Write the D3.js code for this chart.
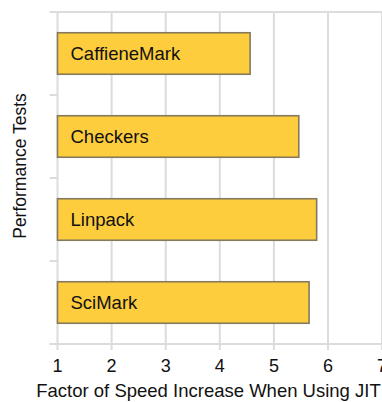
<!DOCTYPE html>
<html>
<head>
<meta charset="utf-8">
<script src="https://cdn.jsdelivr.net/npm/d3@7"></script>
<style>
  html, body { margin: 0; padding: 0; background: #fff; overflow: hidden; }
  text { font-family: "Liberation Sans", Arial, sans-serif; fill: #111; }
</style>
</head>
<body>
<svg id="chart" width="382" height="402"></svg>
<script>
// Benchmark speed-up factors with JIT compilation
const tests = ["CaffieneMark", "Checkers", "Linpack", "SciMark"];
const speedup = [4.56, 5.46, 5.79, 5.65];
const xTicks = [1, 2, 3, 4, 5, 6, 7];

const svg = d3.select("#chart");
const margin = { left: 57.5, top: 12, bottom: 344 };

const x = d3.scaleLinear().domain([1, 7]).range([margin.left, margin.left + 6 * 54.1]);
const y = d3.scaleBand().domain(tests).range([margin.top, margin.bottom])
  .paddingInner(0.5).paddingOuter(0.25);

const grid = svg.append("g");
// vertical gridlines (extend slightly below the axis as ticks)
grid.selectAll("line.v").data(xTicks).join("line")
  .attr("x1", d => x(d)).attr("x2", d => x(d))
  .attr("y1", margin.top).attr("y2", margin.bottom + 6)
  .attr("stroke", "#dcdcdc").attr("stroke-width", 2);
// horizontal frame lines at top and bottom
grid.selectAll("line.h").data([margin.top, margin.bottom]).join("line")
  .attr("x1", margin.left - 8).attr("x2", 382)
  .attr("y1", d => d).attr("y2", d => d)
  .attr("stroke", "#dcdcdc").attr("stroke-width", 2);
// category boundary ticks on the left
const step = y.step();
const bounds = d3.range(1, tests.length).map(i => margin.top + i * step);
grid.selectAll("line.t").data(bounds).join("line")
  .attr("x1", margin.left - 8).attr("x2", margin.left)
  .attr("y1", d => d).attr("y2", d => d)
  .attr("stroke", "#dcdcdc").attr("stroke-width", 2);

// bars
svg.append("g").selectAll("rect").data(tests).join("rect")
  .attr("x", x(1))
  .attr("y", d => y(d))
  .attr("width", (d, i) => x(speedup[i]) - x(1))
  .attr("height", y.bandwidth())
  .attr("fill", "#fecd3e")
  .attr("stroke", "#857a5c")
  .attr("stroke-width", 1.6);

// labels inside bars
svg.append("g").selectAll("text").data(tests).join("text")
  .attr("x", x(1) + 13)
  .attr("y", d => y(d) + y.bandwidth() / 2)
  .attr("dy", "0.36em")
  .attr("font-size", 18.5)
  .text(d => d);

// x tick labels
svg.append("g").selectAll("text").data(xTicks).join("text")
  .attr("x", d => x(d))
  .attr("y", 372)
  .attr("text-anchor", "middle")
  .attr("font-size", 18)
  .text(d => d);

// axis titles
svg.append("text")
  .attr("x", 208.5).attr("y", 397)
  .attr("text-anchor", "middle")
  .attr("font-size", 18.5)
  .text("Factor of Speed Increase When Using JIT");

svg.append("text")
  .attr("transform", "translate(26,166) rotate(-90)")
  .attr("text-anchor", "middle")
  .attr("font-size", 17.5)
  .text("Performance Tests");
</script>
</body>
</html>
